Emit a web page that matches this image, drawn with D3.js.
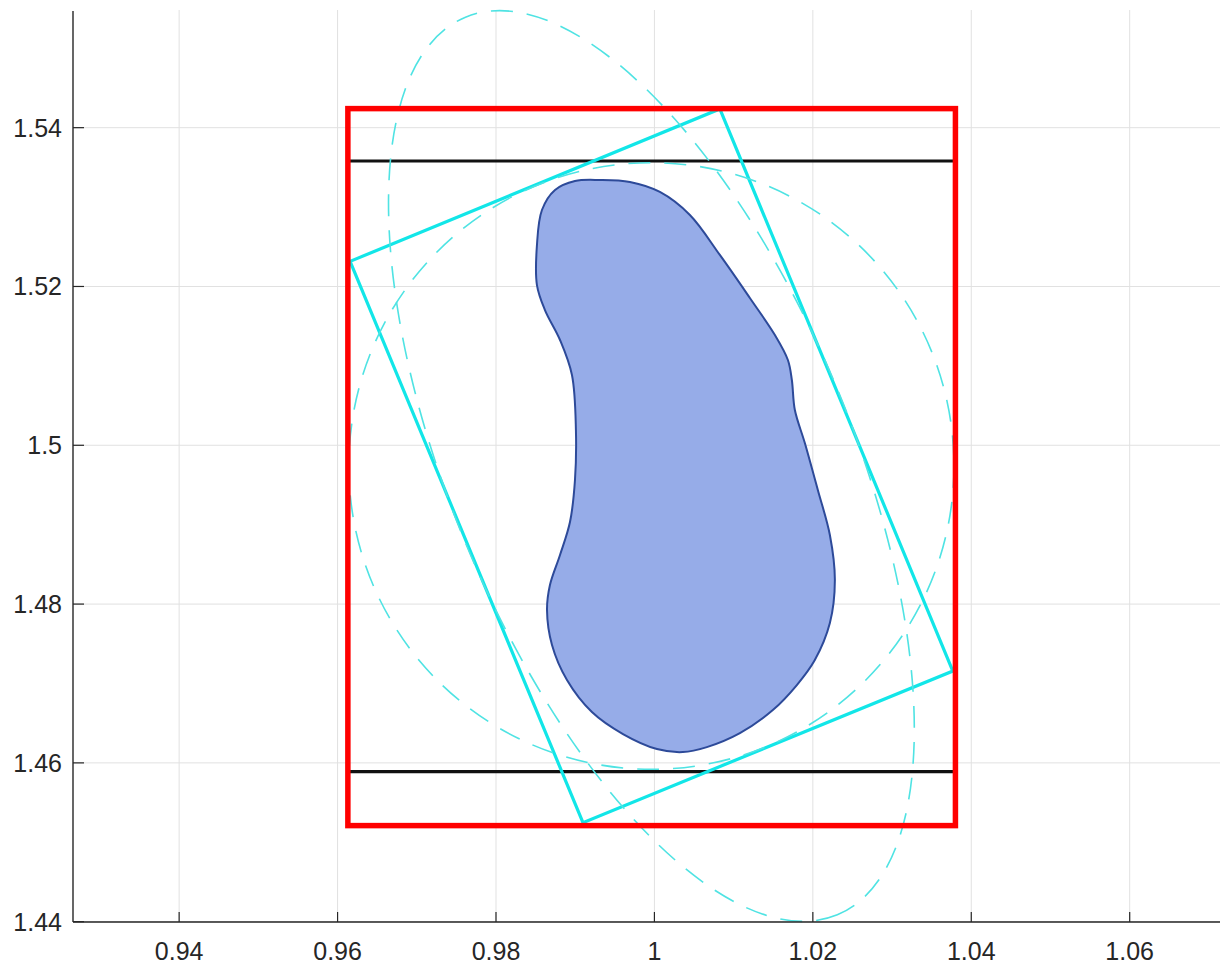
<!DOCTYPE html>
<html>
<head>
<meta charset="utf-8">
<script src="https://cdn.jsdelivr.net/npm/d3@7"></script>
<style>
  html, body { margin: 0; padding: 0; background: #ffffff; }
  svg { display: block; }
  text { font-family: "Liberation Sans", Arial, Helvetica, sans-serif; }
</style>
</head>
<body>
<svg id="chart" width="1220" height="965"></svg>
<script>
// ---------- data ----------
const xDomain = [0.9266, 1.0714];
const yDomain = [1.43996, 1.55482];
const xTickValues = [0.94, 0.96, 0.98, 1.00, 1.02, 1.04, 1.06];
const xTickLabels = ["0.94", "0.96", "0.98", "1", "1.02", "1.04", "1.06"];
const yTickValues = [1.44, 1.46, 1.48, 1.50, 1.52, 1.54];
const yTickLabels = ["1.44", "1.46", "1.48", "1.5", "1.52", "1.54"];

// axis-aligned bounding box (red)
const boxX = [0.9613, 1.0380];
const boxY = [1.4521, 1.5424];
// horizontal black lines
const hLineY = [1.5358, 1.4589];
const hLineX = [0.9613, 1.0380];
// rotated bounding rectangle (cyan) corners
const rotRectX = [0.96158, 1.00826, 1.03767, 0.99098];
const rotRectY = [1.52316, 1.54236, 1.47157, 1.45247];
// ellipse (dashed): center, semi-axes, angle (deg, data space)
const ellipseCenter = [0.99962, 1.49739];
const ellipseAxes = [0.06133, 0.02540];
const ellipseAngle = -67.5;
// circle (dashed)
const circleCenter = [0.99962, 1.49739];
const circleRadius = 0.0382;
// shape outline
const blobX = [0.99312, 0.99691, 1.00069, 1.00448, 1.00826, 1.01205, 1.01521, 1.01685, 1.01735, 1.01773,
               1.01899, 1.02063, 1.02215, 1.02278, 1.02215, 1.02025, 1.01798, 1.01495, 1.01079, 1.00662,
               1.00360, 1.00032, 0.99603, 0.99211, 0.98896, 0.98707, 0.98644, 0.98681, 0.98808, 0.98934,
               0.98997, 0.99009, 0.98959, 0.98808, 0.98618, 0.98517, 0.98517, 0.98580, 0.98745, 0.98997];
const blobY = [1.53341, 1.53316, 1.53190, 1.52900, 1.52397, 1.51855, 1.51389, 1.51074, 1.50822, 1.50444,
               1.50028, 1.49436, 1.48870, 1.48303, 1.47761, 1.47295, 1.46980, 1.46665, 1.46375, 1.46199,
               1.46136, 1.46174, 1.46363, 1.46640, 1.47043, 1.47484, 1.47925, 1.48240, 1.48618, 1.49033,
               1.49562, 1.50192, 1.50885, 1.51326, 1.51703, 1.52018, 1.52522, 1.52963, 1.53215, 1.53328];

// ---------- layout ----------
const plotLeft = 73, plotRight = 1220, plotTop = 10, plotBottom = 922;
const svg = d3.select("#chart");
const x = d3.scaleLinear().domain(xDomain).range([plotLeft, plotRight]);
const y = d3.scaleLinear().domain(yDomain).range([plotBottom, plotTop]);

const textColor = "#262626";

// grid
const grid = svg.append("g");
grid.selectAll("line.vx").data(xTickValues).enter().append("line")
  .attr("x1", d => x(d)).attr("x2", d => x(d))
  .attr("y1", plotTop).attr("y2", plotBottom)
  .attr("stroke", "#e1e1e1").attr("stroke-width", 1);
grid.selectAll("line.hy").data(yTickValues).enter().append("line")
  .attr("x1", plotLeft).attr("x2", plotRight)
  .attr("y1", d => y(d)).attr("y2", d => y(d))
  .attr("stroke", "#e1e1e1").attr("stroke-width", 1);

// blob
const blobPts = blobX.map((v, i) => [x(v), y(blobY[i])]);
svg.append("path")
  .attr("d", d3.line().curve(d3.curveCatmullRomClosed.alpha(0.5))(blobPts))
  .attr("fill", "#96ace8")
  .attr("stroke", "#2d4a99")
  .attr("stroke-width", 2);

// black horizontal lines
svg.selectAll("line.hl").data(hLineY).enter().append("line")
  .attr("x1", x(hLineX[0])).attr("x2", x(hLineX[1]))
  .attr("y1", d => y(d)).attr("y2", d => y(d))
  .attr("stroke", "#111111").attr("stroke-width", 3.2);

// rotated rectangle
const rotPts = rotRectX.map((v, i) => [x(v), y(rotRectY[i])]);
svg.append("path")
  .attr("d", d3.line().curve(d3.curveLinearClosed)(rotPts))
  .attr("fill", "none")
  .attr("stroke", "#12e6e8")
  .attr("stroke-width", 3.2)
  .attr("stroke-linejoin", "miter");

// dashed ellipse
const ecx = x(ellipseCenter[0]), ecy = y(ellipseCenter[1]);
svg.append("ellipse")
  .attr("cx", ecx).attr("cy", ecy)
  .attr("rx", x(ellipseCenter[0] + ellipseAxes[0]) - ecx)
  .attr("ry", x(ellipseCenter[0] + ellipseAxes[1]) - ecx)
  .attr("transform", `rotate(${-ellipseAngle} ${ecx} ${ecy})`)
  .attr("fill", "none")
  .attr("stroke", "#4fe3e3")
  .attr("stroke-width", 1.6)
  .attr("stroke-dasharray", "22,14");

// dashed circle
const ccx = x(circleCenter[0]), ccy = y(circleCenter[1]);
svg.append("ellipse")
  .attr("cx", ccx).attr("cy", ccy)
  .attr("rx", x(circleCenter[0] + circleRadius) - ccx)
  .attr("ry", y(circleCenter[1] - circleRadius) - ccy)
  .attr("fill", "none")
  .attr("stroke", "#4fe3e3")
  .attr("stroke-width", 1.6)
  .attr("stroke-dasharray", "22,14");

// red box
svg.append("rect")
  .attr("x", x(boxX[0])).attr("y", y(boxY[1]))
  .attr("width", x(boxX[1]) - x(boxX[0]))
  .attr("height", y(boxY[0]) - y(boxY[1]))
  .attr("fill", "none")
  .attr("stroke", "#ff0000")
  .attr("stroke-width", 5.5);

// axes
svg.append("line")
  .attr("x1", plotLeft).attr("x2", plotRight)
  .attr("y1", plotBottom).attr("y2", plotBottom)
  .attr("stroke", textColor).attr("stroke-width", 1.4);
svg.append("line")
  .attr("x1", plotLeft).attr("x2", plotLeft)
  .attr("y1", plotTop + 1).attr("y2", plotBottom)
  .attr("stroke", textColor).attr("stroke-width", 1.4);

// x ticks
svg.selectAll("line.xt").data(xTickValues).enter().append("line")
  .attr("x1", d => x(d)).attr("x2", d => x(d))
  .attr("y1", plotBottom).attr("y2", plotBottom - 10)
  .attr("stroke", textColor).attr("stroke-width", 1.2);
svg.selectAll("text.xl").data(xTickValues).enter().append("text")
  .attr("x", d => x(d)).attr("y", 960)
  .attr("text-anchor", "middle")
  .attr("font-size", 25)
  .attr("fill", textColor)
  .text((d, i) => xTickLabels[i]);

// y ticks
svg.selectAll("line.yt").data(yTickValues).enter().append("line")
  .attr("x1", plotLeft).attr("x2", plotLeft + 11)
  .attr("y1", d => y(d)).attr("y2", d => y(d))
  .attr("stroke", textColor).attr("stroke-width", 1.2);
svg.selectAll("text.yl").data(yTickValues).enter().append("text")
  .attr("x", 62).attr("y", d => y(d) + 9)
  .attr("text-anchor", "end")
  .attr("font-size", 25)
  .attr("fill", textColor)
  .text((d, i) => yTickLabels[i]);
</script>
</body>
</html>
